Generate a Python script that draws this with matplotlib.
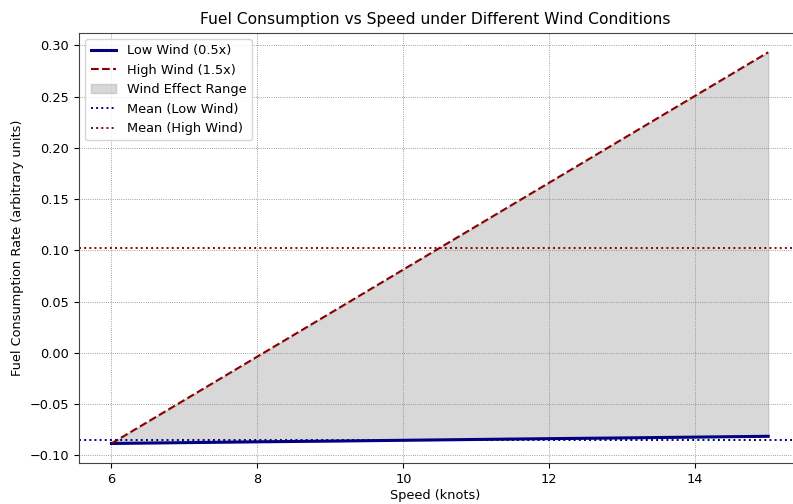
import matplotlib
matplotlib.use('Agg')
import matplotlib.pyplot as plt
import numpy as np

# Speed in knots and fuel consumption rates for the two wind scenarios
speed = [6, 7, 8, 9, 10, 11, 12, 13, 14, 15]
fuel_low_wind = [-0.0885, -0.0877, -0.0869, -0.0862, -0.0854,
                 -0.0846, -0.0838, -0.0831, -0.0823, -0.0815]
fuel_high_wind = [-0.0885, -0.0461, -0.0037, 0.0387, 0.0812,
                  0.1236, 0.1660, 0.2084, 0.2508, 0.2932]

plt.rcParams['font.size'] = 9.3

fig = plt.figure(figsize=(7.93, 5.04), dpi=100)
ax = fig.add_axes([0.0996, 0.0813, 0.8995, 0.8538])

# the two wind curves and the band between them
ax.plot(speed, fuel_low_wind, color='navy', lw=2.2, label='Low Wind (0.5x)')
ax.plot(speed, fuel_high_wind, color='darkred', ls='--', lw=1.5, label='High Wind (1.5x)')
ax.fill_between(speed, fuel_low_wind, fuel_high_wind, color='gray', alpha=0.3,
                label='Wind Effect Range')

# mean levels
ax.axhline(np.mean(fuel_low_wind), color='navy', ls=':', lw=1.4, label='Mean (Low Wind)')
ax.axhline(np.mean(fuel_high_wind), color='darkred', ls=':', lw=1.4, label='Mean (High Wind)')

ax.set_title('Fuel Consumption vs Speed under Different Wind Conditions', fontsize=11.2)
ax.set_xlabel('Speed (knots)', labelpad=2)
ax.set_ylabel('Fuel Consumption Rate (arbitrary units)')
ax.set_xlim(5.555, 15.33)
ax.set_xticks([6, 8, 10, 12, 14])
ax.grid(color='gray', ls=':', lw=0.6)
for spine in ax.spines.values():
    spine.set_color('#444444')
ax.spines['right'].set_visible(False)
ax.legend(loc='upper left')

fig.savefig('out.png', dpi=100)
